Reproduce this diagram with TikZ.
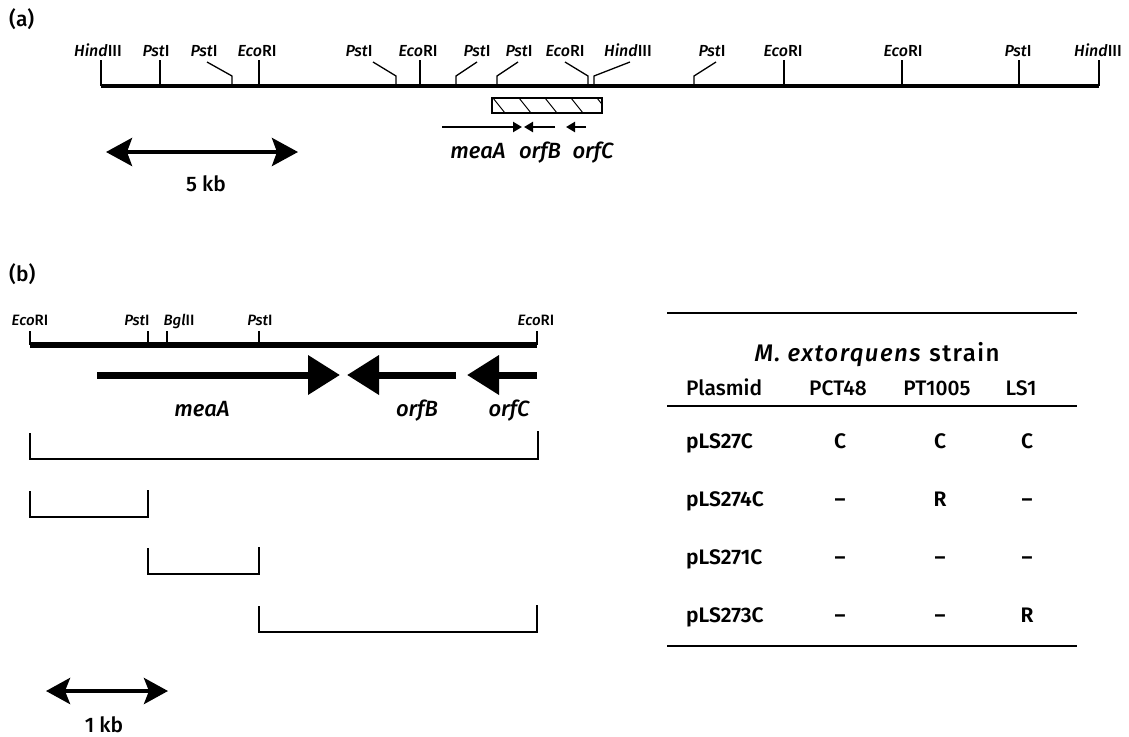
\documentclass[tikz,border=0pt]{standalone}
\usepackage{fontspec}
\setmainfont{Fira Sans}[UprightFont={Fira Sans Medium}, ItalicFont={Fira Sans Medium Italic},
  BoldFont={Fira Sans SemiBold}]
\usetikzlibrary{arrows.meta,positioning,calc}
\newcommand{\siteHind}{\textit{Hind}III}
\newcommand{\sitePst}{\textit{Pst}I}
\newcommand{\siteEco}{\textit{Eco}RI}
\newcommand{\siteBgl}{\textit{Bgl}II}
\begin{document}
\begin{tikzpicture}[x=1pt,y=-1pt,
  sitelab/.style={font=\fontsize{16}{18}\selectfont, anchor=base, inner sep=0pt},
  sitelabb/.style={font=\fontsize{15}{17}\selectfont, anchor=base, inner sep=0pt},
  genelab/.style={font=\fontsize{22}{24}\selectfont\itshape, anchor=base, inner sep=0pt},
  plain/.style={font=\fontsize{21}{23}\selectfont, anchor=base, inner sep=0pt},
  cell/.style={font=\fontsize{21}{23}\selectfont\bfseries, anchor=base, inner sep=0pt},
  tick/.style={line width=1.3pt},
  bracket/.style={line width=2pt},
  scalebar/.style={line width=4pt, {Stealth[length=26pt,width=28pt,inset=5pt]}-{Stealth[length=26pt,width=28pt,inset=5pt]}},
  rule/.style={line width=2.5pt}]
  \useasboundingbox (0,0) rectangle (1129,736);

  % (a) restriction map
  \node[plain, anchor=base west] (pa) at (9,27) {(a)};
  \draw[line width=4.5pt] (101,86) -- (1099,86);
  \foreach \xt/\xl/\nm in {101/98/\siteHind, 160/156/\sitePst, 259/257/\siteEco,
                           420/418/\siteEco, 784/783/\siteEco, 902/903/\siteEco,
                           1019/1018/\sitePst, 1099/1098/\siteHind} {
    \draw[tick] (\xt,86) -- (\xt,60);
    \node[sitelab] (sv\xt) at (\xl,56) {\nm};
  }
  \foreach \xt/\xe/\xl/\nm in {232/207/204/\sitePst, 396/373/359/\sitePst, 588/565/565/\siteEco,
                               456/477/477/\sitePst, 497/518/519/\sitePst, 594/630/628/\siteHind,
                               694/716/712/\sitePst} {
    \draw[tick] (\xt,86) -- (\xt,76) -- (\xe,62);
    \node[sitelab] (ss\xt) at (\xl,56) {\nm};
  }

  % hatched fragment
  \begin{scope}
    \clip (492,98) rectangle (602,113);
    \foreach \x in {493,519,545,571,597}
      \draw[line width=1pt] (\x,98) -- (\x+12,113);
  \end{scope}
  \draw[line width=1.2pt] (492,98) rectangle (602,113);

  % genes
  \draw[line width=2.4pt, -{Triangle[length=9pt,width=10pt]}] (442,127) -- (522,127);
  \draw[line width=2.4pt, -{Triangle[length=9pt,width=10pt]}] (555,127) -- (524,127);
  \draw[line width=2.4pt, -{Triangle[length=9pt,width=10pt]}] (586,127) -- (566,127);
  \node[genelab] (ga1) at (478,158) {meaA};
  \node[genelab] (ga2) at (540,158) {orfB};
  \node[genelab] (ga3) at (593,158) {orfC};

  % 5 kb scale
  \coordinate (ka) at (106,152);
  \coordinate (kb) at (298,152);
  \draw[scalebar] (ka) -- (kb);
  \node[plain] (k5) at (206,191) {5 kb};

  % (b) subclones
  \node[plain, anchor=base west] (pb) at (9,281) {(b)};
  \draw[line width=5.5pt] (30,345) -- (537,345);
  \foreach \xt/\xl/\nm in {30/30/\siteEco, 148/137/\sitePst, 167/179/\siteBgl,
                           259/260/\sitePst, 537/536/\siteEco} {
    \draw[tick] (\xt,345) -- (\xt,331);
    \node[sitelabb] (sb\xt) at (\xl,325) {\nm};
  }
  \draw[line width=7pt, -{Triangle[length=32pt,width=38pt]}] (97,375) -- (340,375);
  \draw[line width=7pt, -{Triangle[length=32pt,width=38pt]}] (456,375) -- (347,375);
  \draw[line width=7pt, -{Triangle[length=32pt,width=38pt]}] (537,375) -- (467,375);
  \node[genelab] (gb1) at (202,416) {meaA};
  \node[genelab] (gb2) at (417,416) {orfB};
  \node[genelab] (gb3) at (509,416) {orfC};

  \draw[bracket] (30,433) -- (30,459) -- (538,459) -- (538,431);
  \draw[bracket] (30,491) -- (30,517) -- (148,517) -- (148,490);
  \draw[bracket] (148,548) -- (148,574) -- (259,574) -- (259,547);
  \draw[bracket] (259,606) -- (259,632) -- (537,632) -- (537,605);

  % 1 kb scale
  \coordinate (la) at (46,691);
  \coordinate (lb) at (168,691);
  \draw[scalebar, {Stealth[length=24pt,width=26pt,inset=5pt]}-{Stealth[length=24pt,width=26pt,inset=5pt]}] (la) -- (lb);
  \node[plain] (k1) at (104,732) {1 kb};

  % table
  \draw[rule] (667,313) -- (1077,313);
  \node[plain, font=\fontsize{24}{26}\selectfont\addfontfeatures{LetterSpace=6}] (hs) at (877,361)
    {\textit{M. extorquens} strain};
  \node[plain, anchor=base west] (h0) at (686,395) {Plasmid};
  \node[plain] (h1) at (838,395) {PCT48};
  \node[plain] (h2) at (937,395) {PT1005};
  \node[plain] (h3) at (1021,395) {LS1};
  \draw[rule] (667,406) -- (1077,406);
  \foreach \nm/\a/\b/\c [count=\i] in {pLS27C/C/C/C, pLS274C/--/R/--,
                                        pLS271C/--/--/--, pLS273C/--/--/R} {
    \pgfmathsetmacro\yy{448+58*(\i-1)}
    \node[cell, anchor=base west] (r\i) at (686,\yy) {\nm};
    \node[cell] (r\i a) at (840,\yy) {\a};
    \node[cell] (r\i b) at (940,\yy) {\b};
    \node[cell] (r\i c) at (1027,\yy) {\c};
  }
  \draw[rule] (667,646) -- (1077,646);
\end{tikzpicture}
\end{document}
